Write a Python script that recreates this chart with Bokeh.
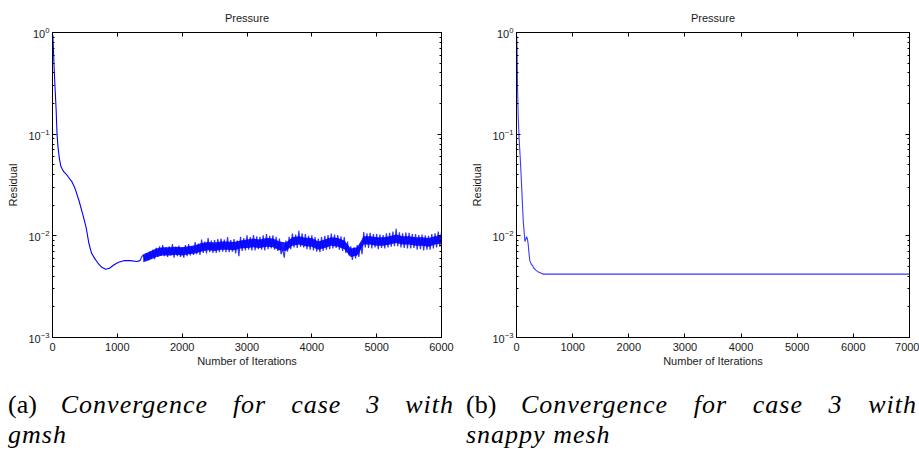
from bokeh.plotting import figure
from bokeh.models import LogAxis, LinearAxis, FixedTicker, Range1d, Div
from bokeh.layouts import row, column
from bokeh.embed import file_html
from bokeh.resources import INLINE

# ---------------- data ----------------
# (a) gmsh: smooth initial decay
iters_a = [0, 5, 10, 25, 40, 55, 70, 85, 105, 130, 170, 230, 300, 350, 410, 470,
           520, 560, 600, 650, 700, 760, 820, 880, 950, 1020, 1100, 1200, 1300, 1350]
resid_a = [0.80, 0.95, 0.80, 0.45, 0.28, 0.18, 0.10, 0.075, 0.058, 0.048, 0.043, 0.039,
           0.034, 0.029, 0.022, 0.016, 0.012, 0.0085, 0.0068, 0.0060, 0.0054, 0.0049,
           0.0047, 0.0048, 0.0052, 0.0055, 0.0057, 0.0057, 0.0056, 0.0057]
# (a) gmsh: noisy plateau, spike peaks / troughs every 25 iterations
iters_a_noise = list(range(1350, 6001, 25))
resid_a_noise = [
    0.0057, 0.0062,
    0.0065, 0.0057, 0.0067, 0.0058,  0.0070, 0.0060, 0.0073, 0.0059,
    0.0076, 0.0062, 0.0079, 0.0064,  0.0081, 0.0063, 0.0077, 0.0062,
    0.0079, 0.0064, 0.0083, 0.0061,  0.0078, 0.0063, 0.0080, 0.0062,
    0.0077, 0.0061, 0.0081, 0.0063,  0.0083, 0.0064, 0.0079, 0.0065,
    0.0087, 0.0066, 0.0084, 0.0065,  0.0092, 0.0068, 0.0088, 0.0067,
    0.0095, 0.0069, 0.0090, 0.0068,  0.0091, 0.0068, 0.0093, 0.0069,
    0.0094, 0.0070, 0.0092, 0.0069,  0.0097, 0.0069, 0.0091, 0.0070,
    0.0093, 0.0067, 0.0090, 0.0063,  0.0098, 0.0071, 0.0095, 0.0072,
    0.0101, 0.0073, 0.0097, 0.0072,  0.0102, 0.0072, 0.0099, 0.0074,
    0.0098, 0.0073, 0.0101, 0.0072,  0.0104, 0.0074, 0.0100, 0.0075,
    0.0101, 0.0073, 0.0098, 0.0071,  0.0094, 0.0066, 0.0074, 0.0061,
    0.0090, 0.0070, 0.0098, 0.0074,  0.0105, 0.0077, 0.0103, 0.0076,
    0.0112, 0.0078, 0.0106, 0.0077,  0.0104, 0.0074, 0.0100, 0.0073,
    0.0101, 0.0072, 0.0097, 0.0070,  0.0094, 0.0069, 0.0097, 0.0071,
    0.0100, 0.0073, 0.0102, 0.0074,  0.0105, 0.0075, 0.0103, 0.0076,
    0.0102, 0.0073, 0.0099, 0.0071,  0.0097, 0.0068, 0.0088, 0.0064,
    0.0079, 0.0058, 0.0077, 0.0060,  0.0081, 0.0062, 0.0084, 0.0066,
    0.0109, 0.0077, 0.0106, 0.0076,  0.0107, 0.0075, 0.0104, 0.0077,
    0.0104, 0.0074, 0.0103, 0.0076,  0.0102, 0.0075, 0.0106, 0.0077,
    0.0107, 0.0078, 0.0110, 0.0079,  0.0117, 0.0079, 0.0108, 0.0077,
    0.0106, 0.0076, 0.0108, 0.0075,  0.0107, 0.0075, 0.0104, 0.0076,
    0.0104, 0.0073, 0.0102, 0.0074,  0.0103, 0.0072, 0.0101, 0.0073,
    0.0100, 0.0073, 0.0104, 0.0075,  0.0106, 0.0077, 0.0110, 0.0078,
    0.0110]
# (a) gmsh: dense core of the noisy band (lower / upper edge every 100 iterations)
iters_a_core = list(range(1400, 6001, 100))
core_lo = [0.0055, 0.0058, 0.0062, 0.0064, 0.0064, 0.0065, 0.0064, 0.0066, 0.0067, 0.0070,
           0.0072, 0.0071, 0.0073, 0.0073, 0.0072, 0.0075, 0.0076, 0.0077, 0.0076, 0.0078,
           0.0077, 0.0072, 0.0071, 0.0080, 0.0082, 0.0079, 0.0078, 0.0073, 0.0076, 0.0080,
           0.0078, 0.0074, 0.0062, 0.0064, 0.0082, 0.0082, 0.0080, 0.0080, 0.0082, 0.0085,
           0.0082, 0.0082, 0.0080, 0.0080, 0.0078, 0.0082, 0.0084]
core_hi = [0.0066, 0.0070, 0.0075, 0.0077, 0.0077, 0.0078, 0.0077, 0.0079, 0.0081, 0.0085,
           0.0087, 0.0086, 0.0088, 0.0088, 0.0087, 0.0090, 0.0092, 0.0094, 0.0092, 0.0095,
           0.0094, 0.0088, 0.0086, 0.0097, 0.0099, 0.0096, 0.0095, 0.0088, 0.0092, 0.0097,
           0.0095, 0.0090, 0.0075, 0.0077, 0.0099, 0.0099, 0.0097, 0.0097, 0.0099, 0.0103,
           0.0099, 0.0099, 0.0097, 0.0097, 0.0095, 0.0099, 0.0101]

# (b) snappy mesh
iters_b = [0, 10, 18, 30, 47, 65, 77, 95, 107, 120, 136, 150, 165, 180, 195, 208, 222,
           237, 260, 285, 310, 344, 390, 433, 480, 522, 7000]
resid_b = [1.0, 0.7, 0.3, 0.15, 0.09, 0.06, 0.045, 0.028, 0.020, 0.014, 0.011, 0.0088,
           0.0092, 0.0098, 0.0093, 0.0083, 0.0068, 0.0057, 0.0053, 0.0051, 0.0048, 0.0046,
           0.0044, 0.0043, 0.0042, 0.0042, 0.0042]

x_ticks_a = [0, 1000, 2000, 3000, 4000, 5000, 6000]
x_ticks_b = [0, 1000, 2000, 3000, 4000, 5000, 6000, 7000]
y_ticks = [1e-3, 1e-2, 1e-1, 1.0]
y_minor = [m * 10.0 ** e for e in (-3, -2, -1) for m in range(2, 10)]

title_text = "Pressure"
x_label = "Number of Iterations"
y_label = "Residual"
cap_a_tag, cap_a_line1, cap_a_line2 = "(a)", "Convergence for case 3 with", "gmsh"
cap_b_tag, cap_b_line1, cap_b_line2 = "(b)", "Convergence for case 3 with", "snappy mesh"

SANS = "Liberation Sans"
SERIF = "Liberation Serif"
TXT = "#1a1a1a"


def style_axis(ax, show_labels, minor):
    ax.major_tick_in = 4
    ax.major_tick_out = 0
    ax.minor_tick_in = 2 if minor else 0
    ax.minor_tick_out = 0
    ax.axis_line_color = "black"
    ax.major_tick_line_color = "black"
    ax.minor_tick_line_color = "black" if minor else None
    ax.major_label_text_font = SANS
    ax.major_label_text_font_size = "11px"
    ax.axis_label_text_font = SANS
    ax.axis_label_text_font_size = "11px"
    ax.axis_label_text_font_style = "normal"
    ax.axis_label_text_color = TXT
    if show_labels:
        ax.major_label_text_color = TXT
        ax.major_label_standoff = 3
        ax.axis_label_standoff = 3
    else:
        ax.major_label_text_color = None
        ax.major_label_standoff = 0


def make_plot(width, ml, mr, mt, mb, xmax, xticks, title_standoff):
    p = figure(width=width, height=390, y_axis_type="log",
               x_range=Range1d(0, xmax), y_range=Range1d(1e-3, 1.0),
               output_backend="svg", toolbar_location=None,
               min_border_left=ml, min_border_right=mr,
               min_border_top=mt, min_border_bottom=mb)
    p.xgrid.visible = False
    p.ygrid.visible = False
    p.outline_line_color = "black"
    p.background_fill_color = "white"
    p.border_fill_color = "white"

    p.title.text = title_text
    p.title.align = "center"
    p.title.text_font = SANS
    p.title.text_font_size = "11px"
    p.title.text_font_style = "normal"
    p.title.text_color = TXT
    p.title.standoff = title_standoff

    p.xaxis.ticker = FixedTicker(ticks=xticks)
    p.xaxis.axis_label = x_label
    style_axis(p.xaxis[0], True, False)
    p.xaxis[0].major_label_standoff = 5
    p.xaxis[0].axis_label_standoff = 1
    p.yaxis.ticker = FixedTicker(ticks=y_ticks, minor_ticks=y_minor)
    p.yaxis.axis_label = y_label
    style_axis(p.yaxis[0], True, True)
    p.yaxis[0].axis_label_standoff = 6

    top = LinearAxis(ticker=FixedTicker(ticks=xticks))
    style_axis(top, False, False)
    p.add_layout(top, "above")
    right = LogAxis(ticker=FixedTicker(ticks=y_ticks, minor_ticks=y_minor))
    style_axis(right, False, True)
    p.add_layout(right, "right")
    return p


def caption(tag, line1, line2, width, pad_left):
    ital = "font-style:italic;letter-spacing:1px;"
    html = (
        f'<div style="font-family:\'{SERIF}\';font-size:26px;line-height:30px;'
        f'color:#000;padding-left:{pad_left}px;width:454px;white-space:nowrap;">'
        f'<div style="text-align:justify;text-align-last:justify;white-space:normal;">'
        f'{tag} <span style="{ital}">{line1}</span></div>'
        f'<div><span style="{ital}">{line2}</span></div></div>'
    )
    return Div(text=html, width=width, height=69, margin=0,
               styles={"overflow": "hidden"})


pa = make_plot(463, 52, 22, 31, 53, 6000, x_ticks_a, 17)
pa.line(iters_a, resid_a, color="blue", line_width=1.1)
pa.varea(x=iters_a_core, y1=core_lo, y2=core_hi, fill_color="blue", fill_alpha=0.9)
pa.line(iters_a_noise, resid_a_noise, color="blue", line_alpha=0.8, line_width=1.2)

pb = make_plot(456, 53, 10, 32, 49, 7000, x_ticks_b, 18)
pb.line(iters_b, resid_b, color="#3a3aff", line_width=1.1)

da = caption(cap_a_tag, cap_a_line1, cap_a_line2, 463, 8)
db = caption(cap_b_tag, cap_b_line1, cap_b_line2, 456, 3)

layout = column(row(pa, pb, spacing=0), row(da, db, spacing=0), spacing=0)
open("out.html", "w").write(file_html(layout, INLINE))
